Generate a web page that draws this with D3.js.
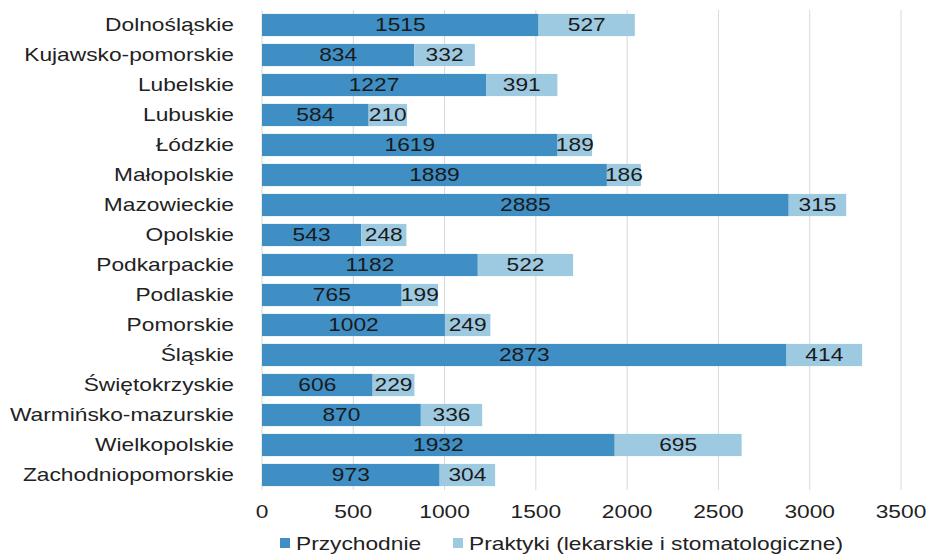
<!DOCTYPE html>
<html lang="pl">
<head>
  <meta charset="UTF-8">
  <title>Przychodnie i praktyki</title>
  <style>
    body { margin: 0; background: #fff; }
    svg { display: block; font-family: 'Liberation Sans', Arial, sans-serif; }
  </style>
</head>
<body>
  <div id="chart"></div>
  <script src="https://d3js.org/d3.v7.min.js"></script>
  <script>
    const regions = ['Dolnośląskie', 'Kujawsko-pomorskie', 'Lubelskie', 'Lubuskie', 'Łódzkie',
      'Małopolskie', 'Mazowieckie', 'Opolskie', 'Podkarpackie', 'Podlaskie', 'Pomorskie',
      'Śląskie', 'Świętokrzyskie', 'Warmińsko-mazurskie', 'Wielkopolskie', 'Zachodniopomorskie']
    const przychodnie = [1515, 834, 1227, 584, 1619, 1889, 2885, 543, 1182, 765, 1002, 2873, 606, 870, 1932, 973]
    const praktyki = [527, 332, 391, 210, 189, 186, 315, 248, 522, 199, 249, 414, 229, 336, 695, 304]
    const seriesNames = ['Przychodnie', 'Praktyki (lekarskie i stomatologiczne)']
    const ticks = [0, 500, 1000, 1500, 2000, 2500, 3000, 3500]

    const width = 928
    const height = 556
    const margin = { top: 10, right: 27, bottom: 66, left: 262 }
    const colors = ['#3f8fc5', '#9ecae1']
    const fontSize = 17.5
    const stretch = 1.3 // tekst w oryginale jest rozciągnięty w poziomie

    const svg = d3.select('#chart').append('svg')
      .attr('width', width)
      .attr('height', height)

    const x = d3.scaleLinear()
      .domain([0, 3500])
      .range([margin.left, width - margin.right])

    const y = d3.scaleBand()
      .domain(regions)
      .range([margin.top, height - margin.bottom])
      .paddingInner(0.26)
      .paddingOuter(0.13)

    const place = (px, py) => `translate(${px},${py}) scale(${stretch},1)`

    // siatka
    svg.append('g')
      .selectAll('line')
      .data(ticks)
      .join('line')
      .attr('x1', d => x(d)).attr('x2', d => x(d))
      .attr('y1', margin.top).attr('y2', height - margin.bottom)
      .attr('stroke', '#d9d9d9')
      .attr('stroke-width', 1)

    // oś X
    svg.append('g')
      .selectAll('text')
      .data(ticks)
      .join('text')
      .attr('transform', d => place(x(d), 518))
      .attr('text-anchor', 'middle')
      .attr('font-size', fontSize)
      .attr('fill', '#222')
      .text(d => d)

    // etykiety województw
    svg.append('g')
      .selectAll('text')
      .data(regions)
      .join('text')
      .attr('transform', d => place(234, y(d) + y.bandwidth() / 2))
      .attr('dy', '0.35em')
      .attr('text-anchor', 'end')
      .attr('font-size', fontSize)
      .attr('fill', '#222')
      .text(d => d)

    const rows = regions.map((r, i) => ({ r, a: przychodnie[i], b: praktyki[i] }))
    const segs = []
    rows.forEach(d => {
      segs.push({ r: d.r, x0: 0, x1: d.a, v: d.a, s: 0 })
      segs.push({ r: d.r, x0: d.a, x1: d.a + d.b, v: d.b, s: 1 })
    })

    svg.append('g')
      .selectAll('rect')
      .data(segs)
      .join('rect')
      .attr('x', d => x(d.x0))
      .attr('y', d => y(d.r))
      .attr('width', d => x(d.x1) - x(d.x0))
      .attr('height', y.bandwidth())
      .attr('fill', d => colors[d.s])

    svg.append('g')
      .selectAll('text')
      .data(segs)
      .join('text')
      .attr('transform', d => place((x(d.x0) + x(d.x1)) / 2, y(d.r) + y.bandwidth() / 2))
      .attr('dy', '0.36em')
      .attr('text-anchor', 'middle')
      .attr('font-size', fontSize)
      .attr('fill', '#1a1a1a')
      .text(d => d.v)

    // legenda
    const legendX = [280, 453]
    const legend = svg.append('g')
      .selectAll('g')
      .data(seriesNames)
      .join('g')
      .attr('transform', (d, i) => `translate(${legendX[i]}, 544)`)
    legend.append('rect')
      .attr('x', 0).attr('y', -6)
      .attr('width', 10).attr('height', 10)
      .attr('fill', (d, i) => colors[i])
    legend.append('text')
      .attr('transform', place(16, 0))
      .attr('dy', '0.35em')
      .attr('font-size', fontSize)
      .attr('fill', '#222')
      .text(d => d)
  </script>
</body>
</html>
